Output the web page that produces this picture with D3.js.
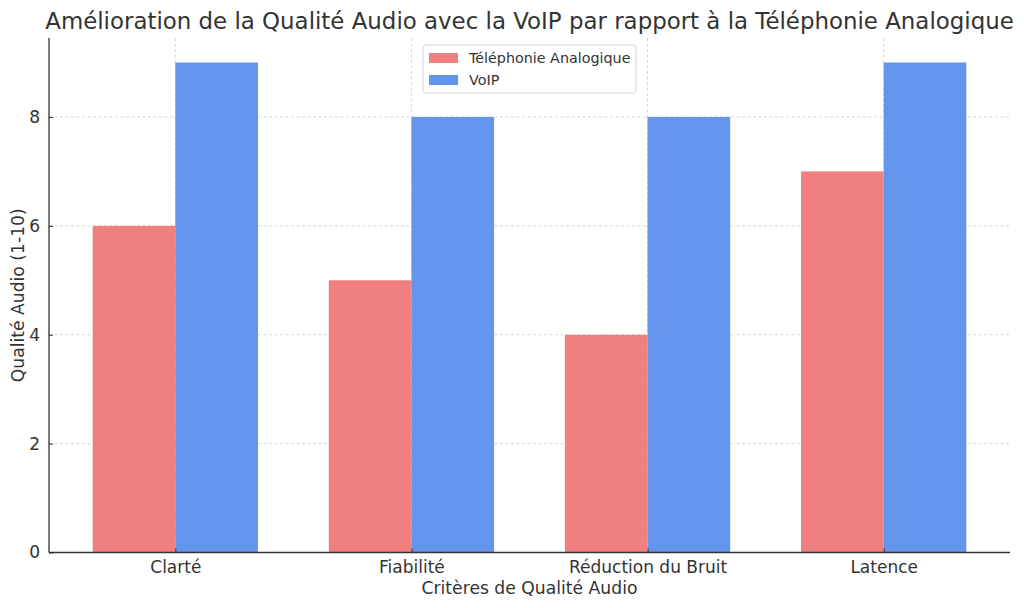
<!DOCTYPE html>
<html><head><meta charset="utf-8">
<script src="https://cdn.jsdelivr.net/npm/d3@7"></script>
<style>body{margin:0;background:#fff}svg{display:block;font-family:"DejaVu Sans",sans-serif}</style>
</head><body><svg id="c" width="1024" height="608"></svg>
<script>
const categories = ["Clarté", "Fiabilité", "Réduction du Bruit", "Latence"];
const analogique = [6, 5, 4, 7];
const voip = [9, 8, 8, 9];
const seriesNames = ["Téléphonie Analogique", "VoIP"];
const seriesColors = ["#F08080", "#6495ED"];
const yTicks = [0, 2, 4, 6, 8];

const svg = d3.select("#c");
const L = 49, R = 1010, T = 38, B = 552.5;
const barW = 0.35;
const x = d3.scaleLinear().domain([-0.535, 3.535]).range([L, R]);
const y = d3.scaleLinear().domain([0, 9.45]).range([B, T]);
const txt = "#333";

// grid
const g = svg.append("g");
g.selectAll("line.h").data(yTicks).join("line")
  .attr("x1", L).attr("x2", R).attr("y1", d => y(d)).attr("y2", d => y(d))
  .attr("stroke", "#ccc").attr("stroke-width", 0.8).attr("stroke-dasharray", "3,2.5");
g.selectAll("line.v").data(categories.map((c, i) => i)).join("line")
  .attr("y1", T).attr("y2", B).attr("x1", d => x(d)).attr("x2", d => x(d))
  .attr("stroke", "#ccc").attr("stroke-width", 0.8).attr("stroke-dasharray", "3,2.5");

// bars
const data = [analogique, voip];
data.forEach((vals, s) => {
  svg.append("g").selectAll("rect").data(vals).join("rect")
    .attr("x", (d, i) => x(i + (s === 0 ? -barW : 0)))
    .attr("width", x(barW) - x(0))
    .attr("y", d => y(d))
    .attr("height", d => y(0) - y(d))
    .attr("fill", seriesColors[s]);
});

// axes
const xAxis = d3.axisBottom(x).tickValues(categories.map((c, i) => i))
  .tickFormat(i => categories[i]).tickSizeInner(-4).tickSizeOuter(0).tickPadding(8);
const xa = svg.append("g").attr("transform", `translate(0,${B})`).call(xAxis);
xa.select(".domain").attr("d", `M${L},0H${R}`);
const yAxis = d3.axisLeft(y).tickValues(yTicks).tickSizeInner(-4).tickSizeOuter(0).tickPadding(9);
const ya = svg.append("g").attr("transform", `translate(${L},0)`).call(yAxis);
ya.select(".domain").attr("d", `M0,${B}V${T}`);
[xa, ya].forEach(a => {
  a.select(".domain").attr("stroke", "#333").attr("stroke-width", 1.3);
  a.selectAll(".tick line").attr("stroke", "#333");
  a.selectAll(".tick text").attr("fill", txt).attr("font-size", 17).attr("font-family", "DejaVu Sans");
});

// title and labels
svg.append("text").attr("x", (L + R) / 2).attr("y", 29).attr("text-anchor", "middle")
  .attr("font-size", 22.9).attr("fill", txt)
  .text("Amélioration de la Qualité Audio avec la VoIP par rapport à la Téléphonie Analogique");
svg.append("text").attr("x", (L + R) / 2).attr("y", 594).attr("text-anchor", "middle")
  .attr("font-size", 17.2).attr("fill", txt).text("Critères de Qualité Audio");
svg.append("text").attr("transform", `translate(24,${(T + B) / 2}) rotate(-90)`)
  .attr("text-anchor", "middle").attr("font-size", 17.2).attr("fill", txt)
  .text("Qualité Audio (1-10)");

// legend
const lg = svg.append("g").attr("transform", "translate(423,45)");
lg.append("rect").attr("width", 213).attr("height", 48).attr("rx", 3)
  .attr("fill", "#fff").attr("fill-opacity", 0.8).attr("stroke", "#d5d5d5");
seriesNames.forEach((n, i) => {
  lg.append("rect").attr("x", 6).attr("y", 8 + i * 22).attr("width", 29).attr("height", 10)
    .attr("fill", seriesColors[i]);
  lg.append("text").attr("x", 46).attr("y", 18 + i * 22).attr("font-size", 14.3)
    .attr("fill", txt).text(n);
});
</script></body></html>
